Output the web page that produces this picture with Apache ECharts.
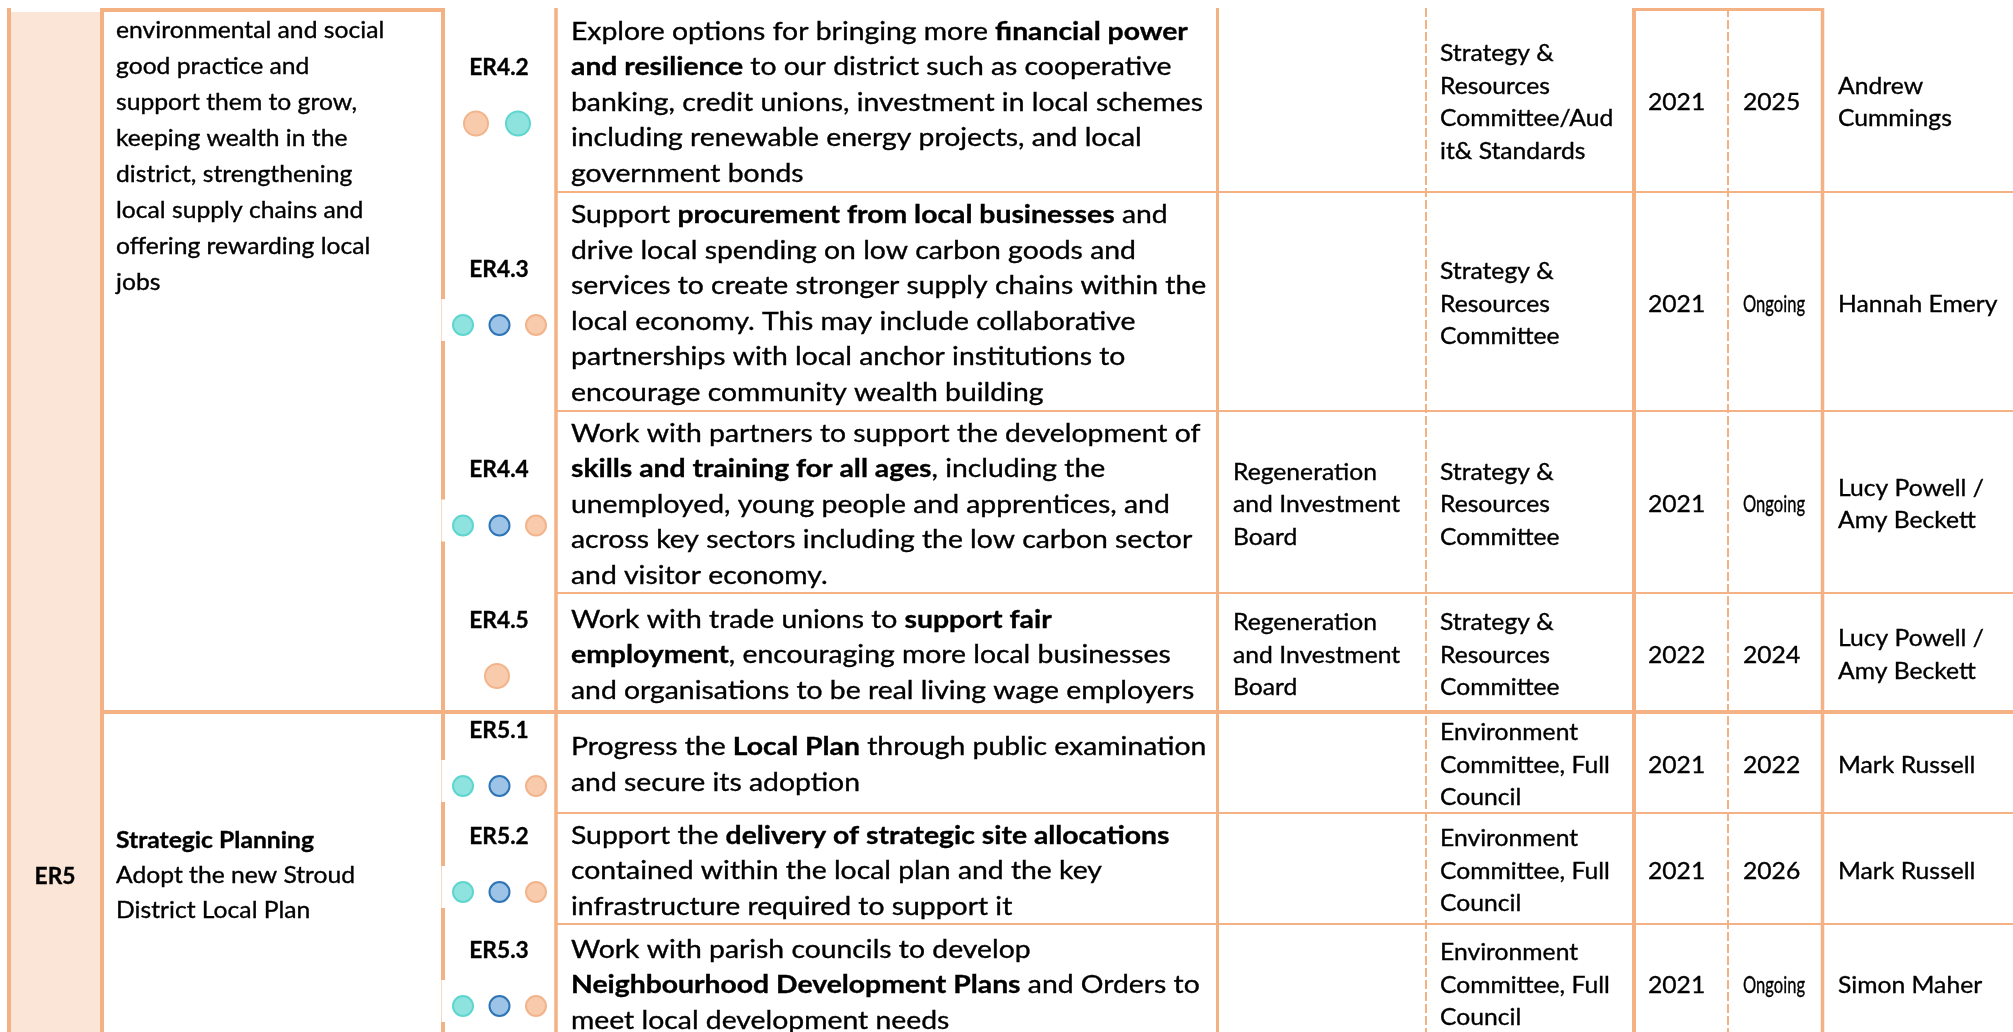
<!DOCTYPE html>
<html><head><meta charset="utf-8">
<script src="https://cdn.jsdelivr.net/npm/echarts@6/dist/echarts.min.js"></script>
<style>html,body{margin:0;padding:0;background:#fff}#c{width:2013px;height:1032px}</style>
</head><body><div id="c"></div>
<script>
// ---------------- data ----------------
const groupCodes = ['', 'ER5'];
const groupObjectives = [
  ['environmental and social', 'good practice and', 'support them to grow,', 'keeping wealth in the',
   'district, strengthening', 'local supply chains and', 'offering rewarding local', 'jobs'],
  ['{b|Strategic Planning}', 'Adopt the new Stroud', 'District Local Plan']
];
const actionCodes = ['ER4.2', 'ER4.3', 'ER4.4', 'ER4.5', 'ER5.1', 'ER5.2', 'ER5.3'];
const actionGroup = [0, 0, 0, 0, 1, 1, 1];
const actionDots = [
  ['peach', 'teal'], ['teal', 'blue', 'peach'], ['teal', 'blue', 'peach'], ['peach'],
  ['teal', 'blue', 'peach'], ['teal', 'blue', 'peach'], ['teal', 'blue', 'peach']
];
const actionText = [
  ['Explore options for bringing more {b|financial power}', '{b|and resilience} to our district such as cooperative',
   'banking, credit unions, investment in local schemes', 'including renewable energy projects, and local', 'government bonds'],
  ['Support {b|procurement from local businesses} and', 'drive local spending on low carbon goods and',
   'services to create stronger supply chains within the', 'local economy. This may include collaborative',
   'partnerships with local anchor institutions to', 'encourage community wealth building'],
  ['Work with partners to support the development of', '{b|skills and training for all ages}, including the',
   'unemployed, young people and apprentices, and', 'across key sectors including the low carbon sector', 'and visitor economy.'],
  ['Work with trade unions to {b|support fair}', '{b|employment}, encouraging more local businesses',
   'and organisations to be real living wage employers'],
  ['Progress the {b|Local Plan} through public examination', 'and secure its adoption'],
  ['Support the {b|delivery of strategic site allocations}', 'contained within the local plan and the key',
   'infrastructure required to support it'],
  ['Work with parish councils to develop', '{b|Neighbourhood Development Plans} and Orders to', 'meet local development needs']
];
const boards = [[], [], ['Regeneration', 'and Investment', 'Board'], ['Regeneration', 'and Investment', 'Board'], [], [], []];
const committees = [
  ['Strategy &', 'Resources', 'Committee/Aud', 'it& Standards'],
  ['Strategy &', 'Resources', 'Committee'],
  ['Strategy &', 'Resources', 'Committee'],
  ['Strategy &', 'Resources', 'Committee'],
  ['Environment', 'Committee, Full', 'Council'],
  ['Environment', 'Committee, Full', 'Council'],
  ['Environment', 'Committee, Full', 'Council']
];
const startYears = ['2021', '2021', '2021', '2022', '2021', '2021', '2021'];
const endYears = ['2025', 'Ongoing', 'Ongoing', '2024', '2022', '2026', 'Ongoing'];
const owners = [['Andrew', 'Cummings'], ['Hannah Emery'], ['Lucy Powell /', 'Amy Beckett'], ['Lucy Powell /', 'Amy Beckett'],
  ['Mark Russell'], ['Mark Russell'], ['Simon Maher']];

// ---------------- layout & style ----------------
const ROW_EDGES = [8, 192, 411, 593, 712, 813, 924, 1041];
const COLX = { outer: 9, c1: 102, c2: 443, c3: 556, c4: 1217.5, c5: 1426, c6: 1634, c7: 1728, c8: 1822.5, right: 2013 };
const TX = { obj: 116, desc: 571, board: 1233, comm: 1440, start: 1648, end: 1743, owner: 1838, code: 499, group: 55 };
const LH = { obj0: 36, obj1: 35, desc: 35.5, cell: 32.5 };
const BORDER = '#F4B183';
const PEACH_BG = '#FBE5D6';
const DOT_STYLE = {
  teal: { fill: '#8FE3DF', stroke: '#5ED5CF' },
  blue: { fill: '#9DC3E6', stroke: '#2E75B6' },
  peach: { fill: '#F8CBAD', stroke: '#F2B48A' }
};
const FONT = 'Lato';
const FS = 23.5;
const FS_DESC = 25.5;
const INK = '#000';
const INK_W = 0.35;
const meas = document.createElement('canvas').getContext('2d');
meas.font = FS + 'px ' + FONT;
const SX = 144 / meas.measureText('Regeneration').width;
const SX_ONGOING = 62 / meas.measureText('Ongoing').width;
const SX_DESC = SX * 1.148 * FS / FS_DESC;
const SX_CODE = SX * 0.92;

function txt(api, s, x, y, align, bold, sx, fs) {
  const p = api.coord([x, y]);
  const size = fs || FS;
  return {
    type: 'text', x: p[0], y: p[1], scaleX: sx || SX, scaleY: 1,
    style: {
      text: s, fill: INK, stroke: INK, lineWidth: INK_W,
      fontFamily: FONT, fontSize: size, fontWeight: bold ? 'bold' : 'normal',
      align: align, textAlign: align, verticalAlign: 'middle', textVerticalAlign: 'middle',
      rich: { b: { fontFamily: FONT, fontSize: size, fontWeight: 'bold', fill: INK, stroke: INK, lineWidth: INK_W } }
    }
  };
}
function block(ch, api, lines, x, cy, lh, align, bold, sx, fs) {
  const n = lines.length;
  lines.forEach((s, k) => ch.push(txt(api, s, x, cy + (k - (n - 1) / 2) * lh, align, bold, sx, fs)));
}
function seg(api, x1, y1, x2, y2, w, dash) {
  const a = api.coord([x1, y1]), b = api.coord([x2, y2]);
  return { type: 'line', shape: { x1: a[0], y1: a[1], x2: b[0], y2: b[1] },
    style: { stroke: BORDER, lineWidth: w, lineDash: dash || null } };
}
function rect(api, x1, y1, x2, y2, fill) {
  const a = api.coord([x1, y1]), b = api.coord([x2, y2]);
  return { type: 'rect', shape: { x: a[0], y: a[1], width: b[0] - a[0], height: b[1] - a[1] }, style: { fill: fill } };
}

// borders
function bordersItem(params, api) {
  const ch = [];
  const B = 1032;
  ch.push(rect(api, 11, 12, 100, B, PEACH_BG));
  ch.push(seg(api, COLX.c1 - 2, 10, COLX.c2 + 2, 10, 4));
  ch.push(seg(api, COLX.c6 - 2, 9.5, COLX.c8 + 1.5, 9.5, 3));
  for (let i = 1; i < ROW_EDGES.length - 1; i++) {
    const gEnd = actionGroup[i] !== actionGroup[i - 1];
    if (gEnd) ch.push(seg(api, COLX.c1, ROW_EDGES[i], COLX.right, ROW_EDGES[i], 4));
    else ch.push(seg(api, COLX.c3, ROW_EDGES[i], COLX.right, ROW_EDGES[i], 2));
  }
  ch.push(seg(api, COLX.outer, 8, COLX.outer, B, 4));
  ch.push(seg(api, COLX.c1, 8, COLX.c1, B, 4));
  ch.push(seg(api, COLX.c2, 8, COLX.c2, B, 4));
  ch.push(seg(api, COLX.c3, 8, COLX.c3, B, 3.5));
  ch.push(seg(api, COLX.c4, 8, COLX.c4, B, 3));
  ch.push(seg(api, COLX.c5, 8, COLX.c5, B, 2, [9, 3]));
  ch.push(seg(api, COLX.c6, 8, COLX.c6, B, 4));
  ch.push(seg(api, COLX.c7, 8, COLX.c7, B, 2, [9, 3]));
  ch.push(seg(api, COLX.c8, 8, COLX.c8, B, 3.5));
  return { type: 'group', children: ch };
}

// group (merged) cells
const GROUP_ROWS = groupCodes.map((_, g) => [actionGroup.indexOf(g), actionGroup.lastIndexOf(g)]);
function groupItem(params, api) {
  const g = api.value(0);
  const y0 = ROW_EDGES[GROUP_ROWS[g][0]], y1 = ROW_EDGES[GROUP_ROWS[g][1] + 1];
  const ch = [];
  const cy = (y0 + y1) / 2;
  if (groupCodes[g]) ch.push(txt(api, groupCodes[g], TX.group, cy, 'center', true, SX_CODE));
  const lines = groupObjectives[g];
  if (g === 0) {
    lines.forEach((s, k) => ch.push(txt(api, s, TX.obj, y0 + 22 + k * LH.obj0, 'left', false)));
  } else {
    block(ch, api, lines, TX.obj, cy - 1, LH.obj1, 'left', false);
  }
  return { type: 'group', children: ch };
}

// action rows
function rowItem(params, api) {
  const i = api.value(0);
  const y0 = ROW_EDGES[i], y1 = ROW_EDGES[i + 1];
  const cy = (y0 + y1) / 2 + 2.5;
  const ch = [];
  const dots = actionDots[i];
  const dy = cy + 21;
  if (dots.length === 3) ch.push(rect(api, 441.5, dy - 26, 553, dy + 16, '#fff'));
  ch.push(txt(api, actionCodes[i], TX.code, cy - 35, 'center', true, SX_CODE));
  const spacing = dots.length === 3 ? 36.5 : 42;
  const r = dots.length === 3 ? 10 : 12;
  const mid = dots.length === 3 ? 499.5 : 497;
  dots.forEach((d, k) => {
    const x = mid + (k - (dots.length - 1) / 2) * spacing;
    const p = api.coord([x, dy]);
    const p2 = api.coord([x + r, dy]);
    ch.push({ type: 'circle', shape: { cx: p[0], cy: p[1], r: p2[0] - p[0] },
      style: { fill: DOT_STYLE[d].fill, stroke: DOT_STYLE[d].stroke, lineWidth: 2 } });
  });
  block(ch, api, actionText[i], TX.desc, cy, LH.desc, 'left', false, SX_DESC, FS_DESC);
  block(ch, api, boards[i], TX.board, cy, LH.cell, 'left', false);
  block(ch, api, committees[i], TX.comm, cy, LH.cell, 'left', false);
  ch.push(txt(api, startYears[i], TX.start, cy, 'left', false));
  const e = endYears[i];
  ch.push(txt(api, e, TX.end, cy, 'left', false, /^\d+$/.test(e) ? SX : SX_ONGOING));
  block(ch, api, owners[i], TX.owner, cy, LH.cell, 'left', false);
  return { type: 'group', children: ch };
}

const chart = echarts.init(document.getElementById('c'), null, { renderer: 'canvas' });
chart.setOption({
  backgroundColor: '#fff',
  animation: false,
  grid: { left: 0, right: 0, top: 0, bottom: 0 },
  xAxis: { type: 'value', min: 0, max: 2013, show: false },
  yAxis: { type: 'value', min: 0, max: 1032, inverse: true, show: false },
  series: [
    { type: 'custom', z: 1, clip: false, renderItem: bordersItem, data: [[0, 0]] },
    { type: 'custom', z: 2, clip: false, renderItem: groupItem, data: groupCodes.map((_, g) => [g, 0]) },
    { type: 'custom', z: 3, clip: false, renderItem: rowItem, data: actionCodes.map((_, i) => [i, 0]) }
  ]
});
</script></body></html>
